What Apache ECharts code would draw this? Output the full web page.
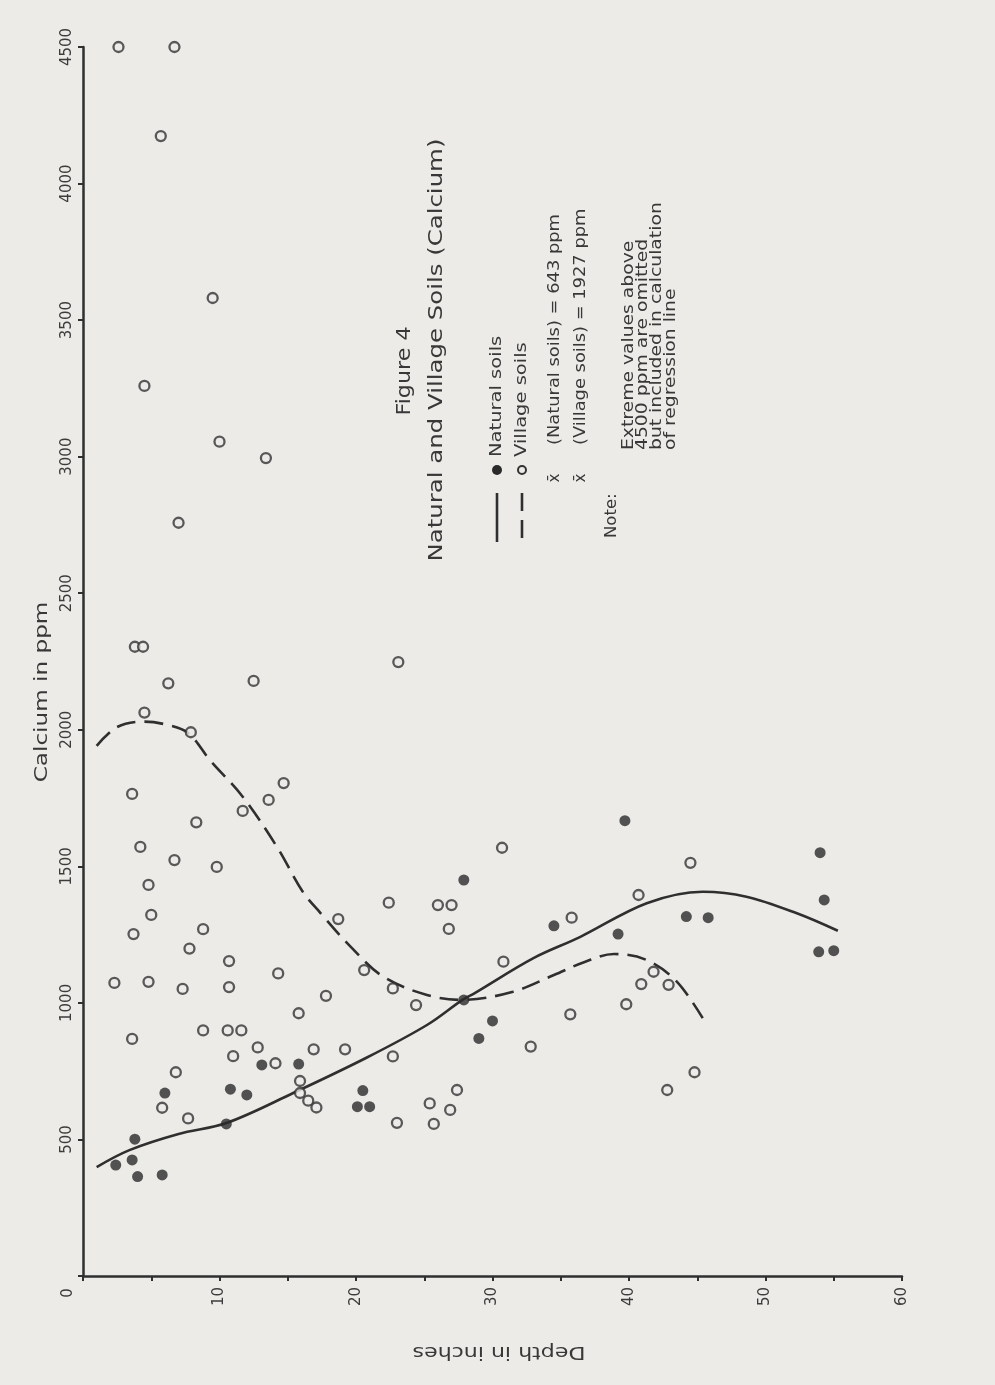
<!DOCTYPE html>
<html>
<head>
<meta charset="utf-8">
<script src="https://cdn.jsdelivr.net/npm/echarts@6/dist/echarts.min.js"></script>
<style>
html,body{margin:0;padding:0;background:#ecebe8;}
#chart{width:995px;height:1385px;}
</style>
</head>
<body>
<div id="chart"></div>
<script>
// Depth in inches, Calcium in ppm
const naturalPoints = [
  [2.4,406],[3.6,425],[3.8,501],[4.0,364],[5.8,370],[6.0,670],[10.5,557],[10.8,684],
  [12.0,663],[13.1,773],[15.8,776],[20.1,620],[20.5,679],[21.0,620],[27.9,1450],[27.9,1011],
  [29.0,870],[30.0,934],[34.5,1282],[39.2,1252],[39.7,1667],[44.2,1316],[45.8,1312],
  [54.0,1550],[54.3,1377],[53.9,1187],[55.0,1191]
];
const villagePoints = [
  [2.6,4500],[6.7,4500],[5.7,4174],[9.5,3581],[4.5,3259],[10.0,3055],[13.4,2995],[7.0,2758],
  [3.8,2304],[4.4,2304],[6.25,2170],[12.5,2179],[23.1,2248],[4.5,2063],[7.9,1991],[3.6,1765],
  [11.7,1703],[13.6,1743],[14.7,1805],[8.3,1661],[4.2,1571],[6.7,1523],[9.8,1498],[4.8,1432],
  [5.0,1322],[3.7,1252],[8.8,1270],[7.8,1199],[10.7,1153],[14.3,1108],[2.3,1073],[4.8,1077],
  [7.3,1051],[10.7,1058],[15.8,962],[3.6,868],[8.8,899],[10.6,899],[11.6,899],[12.8,837],
  [16.9,830],[11.0,805],[14.1,779],[6.8,746],[15.9,714],[15.9,670],[16.5,642],[17.1,617],
  [5.8,616],[7.7,577],
  [30.7,1568],[22.4,1367],[26.0,1358],[27.0,1358],[26.8,1271],[18.7,1307],[35.8,1312],
  [30.8,1151],[20.6,1120],[22.7,1053],[17.8,1026],[24.4,992],[35.7,958],[32.8,840],
  [19.2,830],[22.7,804],[27.4,681],[25.4,632],[26.9,608],[23.0,561],[25.7,557],
  [44.5,1513],[40.7,1395],[41.8,1114],[40.9,1069],[42.9,1066],[39.8,995],[44.8,746],[42.8,681]
];
// regression curves
const naturalCurve = [
  [1.0,399],[3.4,461],[7.0,520],[10.5,560],[15.4,670],[20.8,800],[25.2,919],
  [27.8,1011],[28.7,1036],[33.0,1164],[36.4,1241],[41.3,1365],[45.4,1407],[48.6,1389],
  [52.3,1328],[55.3,1264]
];
const villageCurve = [
  [1.0,1941],[2.5,2010],[4.5,2030],[6.0,2020],[7.7,1988],[9.3,1889],[11.7,1755],[14.2,1572],
  [16.1,1407],[17.4,1329],[19.6,1206],[22.0,1096],[25.2,1029],[27.8,1011],[31.5,1041],
  [34.5,1102],[36.8,1151],[38.9,1179],[41.3,1157],[43.5,1078],[45.4,944]
];
const depthRange = [0, 60];
const calciumRange = [0, 4500];

const INK = '#2f2f2f';
const BG = '#ecebe8';
const FONT = 'DejaVu Sans';

const chart = echarts.init(document.getElementById('chart'), null, {renderer: 'canvas'});

function rtext(x, y, text, size, align, sx, rot) {
  return {
    type: 'text', x: x, y: y, rotation: rot === undefined ? Math.PI / 2 : rot,
    scaleX: sx || 1,
    style: {text: text, fontSize: size, fontFamily: FONT, fill: '#383838',
            align: align || 'center', verticalAlign: 'middle'}
  };
}

const option = {
  backgroundColor: BG,
  animation: false,
  grid: {left: 83, top: 47, width: 819, height: 1229, containLabel: false},
  xAxis: {
    type: 'value', min: depthRange[0], max: depthRange[1], interval: 5,
    axisLine: {lineStyle: {color: INK, width: 2.5}},
    axisTick: {length: 5, lineStyle: {color: INK, width: 2}},
    axisLabel: {rotate: 90, margin: 11, fontSize: 15, fontFamily: FONT, color: '#3c3c3c',
      formatter: v => (v % 10 === 0 && v > 0) ? String(v) : ''},
    splitLine: {show: false}
  },
  yAxis: {
    type: 'value', min: calciumRange[0], max: calciumRange[1], interval: 500,
    axisLine: {lineStyle: {color: INK, width: 2.5}},
    axisTick: {length: 5, lineStyle: {color: INK, width: 2}},
    axisLabel: {rotate: 90, margin: 8, fontSize: 15, fontFamily: FONT, color: '#3c3c3c',
      formatter: v => v > 0 ? String(v) : ''},
    splitLine: {show: false}
  },
  series: [
    {
      type: 'line', name: 'Natural regression', data: naturalCurve, smooth: 0.35,
      showSymbol: false, z: 2,
      lineStyle: {color: INK, width: 2.6}
    },
    {
      type: 'line', name: 'Village regression', data: villageCurve, smooth: 0.35,
      showSymbol: false, z: 2,
      lineStyle: {color: INK, width: 2.6, type: [19, 9]}
    },
    {
      type: 'scatter', name: 'Natural soils', data: naturalPoints, symbol: 'circle', symbolSize: 11,
      itemStyle: {color: '#2a2a2a'}, z: 3
    },
    {
      type: 'scatter', name: 'Village soils', data: villagePoints, symbol: 'circle', symbolSize: 10,
      itemStyle: {color: BG, borderColor: '#333', borderWidth: 2.3}, z: 3
    }
  ],
  graphic: [
    rtext(68, 1293, '0', 15),
    rtext(43, 692, 'Calcium in ppm', 17, 'center', 1.36),
    rtext(499, 1351, 'Depth in inches', 17, 'center', 1.3, Math.PI),
    rtext(405, 371, 'Figure 4', 19, 'center', 1.17),
    rtext(437, 350, 'Natural and Village Soils (Calcium)', 20, 'center', 1.22),
    {type: 'line', shape: {x1: 497, y1: 493, x2: 497, y2: 542}, style: {stroke: INK, lineWidth: 2.6}},
    {type: 'circle', shape: {cx: 497, cy: 470, r: 5}, style: {fill: '#2a2a2a'}},
    rtext(497, 457, 'Natural soils', 15, 'left', 1.3),
    {type: 'line', shape: {x1: 522, y1: 493, x2: 522, y2: 542}, style: {stroke: INK, lineWidth: 2.6, lineDash: [18, 9]}},
    {type: 'circle', shape: {cx: 522, cy: 470, r: 4}, style: {fill: BG, stroke: '#333', lineWidth: 2}},
    rtext(522, 457, 'Village soils', 15, 'left', 1.3),
    rtext(555, 478, 'x\u0304', 15),
    rtext(555, 445, '(Natural soils) = 643 ppm', 15, 'left', 1.19),
    rtext(581, 478, 'x\u0304', 15),
    rtext(581, 445, '(Village soils) = 1927 ppm', 15, 'left', 1.19),
    rtext(612, 538, 'Note:', 15, 'left', 1.1),
    rtext(629, 450, 'Extreme values above', 15, 'left', 1.25),
    rtext(643, 450, '4500 ppm are omitted', 15, 'left', 1.25),
    rtext(657, 450, 'but included in calculation', 15, 'left', 1.25),
    rtext(671, 450, 'of regression line', 15, 'left', 1.25)
  ]
};
chart.setOption(option);
</script>
</body>
</html>
